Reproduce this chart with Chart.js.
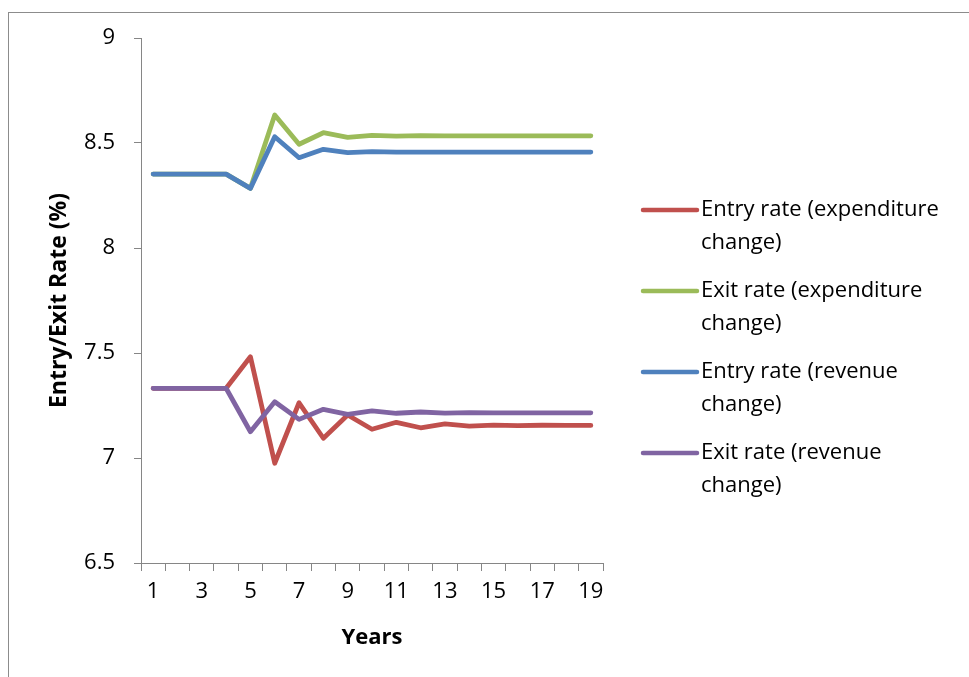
<!DOCTYPE html>
<html>
<head>
<meta charset="utf-8">
<script src="https://cdn.jsdelivr.net/npm/chart.js@4/dist/chart.umd.min.js"></script>
<style>
  html, body { margin: 0; padding: 0; background: #fff; overflow: hidden; }
  #wrap { position: relative; width: 969px; height: 677px; }
  #frame { position: absolute; left: 8px; top: 12px; width: 980px; height: 700px; border: 1px solid #8c8c8c; box-sizing: border-box; }
  #c { position: absolute; left: 0; top: 0; }
</style>
</head>
<body>
<div id="wrap">
  <div id="frame"></div>
  <canvas id="c" width="969" height="677"></canvas>
</div>
<script>
// Simulated entry and exit rates over 19 years
const years = ['1','2','3','4','5','6','7','8','9','10','11','12','13','14','15','16','17','18','19'];

const entryExpenditure = [7.332, 7.332, 7.332, 7.332, 7.482, 6.975, 7.263, 7.094, 7.205, 7.137, 7.170, 7.144, 7.162, 7.152, 7.157, 7.154, 7.156, 7.155, 7.155];
const exitExpenditure  = [8.352, 8.352, 8.352, 8.352, 8.284, 8.633, 8.494, 8.549, 8.527, 8.536, 8.533, 8.535, 8.534, 8.534, 8.534, 8.534, 8.534, 8.534, 8.534];
const entryRevenue     = [8.352, 8.352, 8.352, 8.352, 8.284, 8.530, 8.430, 8.470, 8.454, 8.459, 8.457, 8.457, 8.457, 8.457, 8.457, 8.457, 8.457, 8.457, 8.457];
const exitRevenue      = [7.332, 7.332, 7.332, 7.332, 7.125, 7.268, 7.184, 7.232, 7.208, 7.224, 7.213, 7.219, 7.214, 7.216, 7.215, 7.215, 7.215, 7.215, 7.215];

const seriesNames = [
  'Entry rate (expenditure change)',
  'Exit rate (expenditure change)',
  'Entry rate (revenue change)',
  'Exit rate (revenue change)'
];
const seriesColors = ['#C0504D', '#9BBB59', '#4F81BD', '#8064A2'];

const yTitle = 'Entry/Exit Rate (%)';
const xTitle = 'Years';

const FONT = '"Open Sans", "Noto Sans", sans-serif';
const AXIS_GRAY = '#868686';

// Legend drawn at the right, with labels wrapped over two lines
const sideLegend = {
  id: 'sideLegend',
  afterDraw(chart, args, opts) {
    const ctx = chart.ctx;
    ctx.save();
    ctx.font = opts.fontSize + 'px ' + FONT;
    ctx.textBaseline = 'middle';
    ctx.textAlign = 'left';
    let y = opts.top;
    chart.data.datasets.forEach((ds) => {
      // wrap words to the available width
      const words = ds.label.split(' ');
      const lines = [];
      let cur = '';
      words.forEach(w => {
        const test = cur ? cur + ' ' + w : w;
        if (ctx.measureText(test).width > opts.maxWidth && cur) {
          lines.push(cur);
          cur = w;
        } else {
          cur = test;
        }
      });
      if (cur) lines.push(cur);

      ctx.strokeStyle = ds.borderColor;
      ctx.lineWidth = 4.5;
      ctx.lineCap = 'round';
      ctx.beginPath();
      ctx.moveTo(opts.lineX0, y);
      ctx.lineTo(opts.lineX1, y);
      ctx.stroke();

      ctx.fillStyle = '#000';
      lines.forEach((ln, i) => {
        ctx.fillText(ln, opts.textX, y + i * opts.lineGap);
      });
      y += (lines.length - 1) * opts.lineGap + opts.itemGap;
    });
    ctx.restore();
  }
};

const dataArrays = [entryExpenditure, exitExpenditure, entryRevenue, exitRevenue];
// later series sit on top of earlier ones
const drawOrder = [4, 3, 2, 1];

new Chart(document.getElementById('c'), {
  type: 'line',
  data: {
    labels: years,
    datasets: dataArrays.map((arr, i) => ({
      label: seriesNames[i],
      data: arr,
      borderColor: seriesColors[i],
      backgroundColor: seriesColors[i],
      borderWidth: 4.8,
      pointRadius: 0,
      pointHoverRadius: 0,
      tension: 0,
      borderCapStyle: 'round',
      borderJoinStyle: 'round',
      fill: false,
      order: drawOrder[i]
    }))
  },
  options: {
    responsive: false,
    animation: false,
    events: [],
    layout: { padding: { top: 38, right: 366, left: 0, bottom: 0 } },
    plugins: {
      legend: { display: false },
      tooltip: { enabled: false },
      sideLegend: {
        top: 210, lineX0: 643, lineX1: 697, textX: 701,
        lineGap: 33, itemGap: 48, fontSize: 22, maxWidth: 262
      }
    },
    scales: {
      x: {
        type: 'category',
        offset: true,
        afterFit(scale) { scale.height = 114; },
        grid: {
          offset: true,
          drawOnChartArea: false,
          drawTicks: true,
          tickLength: 8,
          tickColor: AXIS_GRAY,
          color: AXIS_GRAY
        },
        border: { color: AXIS_GRAY, width: 1 },
        ticks: {
          autoSkip: false,
          maxRotation: 0,
          padding: 8,
          color: '#000',
          font: { family: FONT, size: 22 },
          callback(value, index) {
            return index % 2 === 0 ? this.getLabelForValue(value) : '';
          }
        },
        title: {
          display: true,
          text: xTitle,
          color: '#000',
          font: { family: FONT, size: 22, weight: 'bold' },
          padding: { top: 0, bottom: 26 }
        }
      },
      y: {
        min: 6.5,
        max: 9,
        afterFit(scale) { scale.width = 141; },
        grid: {
          drawOnChartArea: false,
          drawTicks: true,
          tickLength: 7,
          tickColor: AXIS_GRAY,
          color: AXIS_GRAY
        },
        border: { color: AXIS_GRAY, width: 1 },
        ticks: {
          stepSize: 0.5,
          padding: 19,
          color: '#000',
          font: { family: FONT, size: 22 },
          callback(value) { return String(Math.round(value * 10) / 10); }
        },
        title: {
          display: true,
          text: yTitle,
          color: '#000',
          font: { family: FONT, size: 23, weight: 'bold' },
          padding: { top: 46, bottom: 0 }
        }
      }
    }
  },
  plugins: [sideLegend]
});
</script>
</body>
</html>
